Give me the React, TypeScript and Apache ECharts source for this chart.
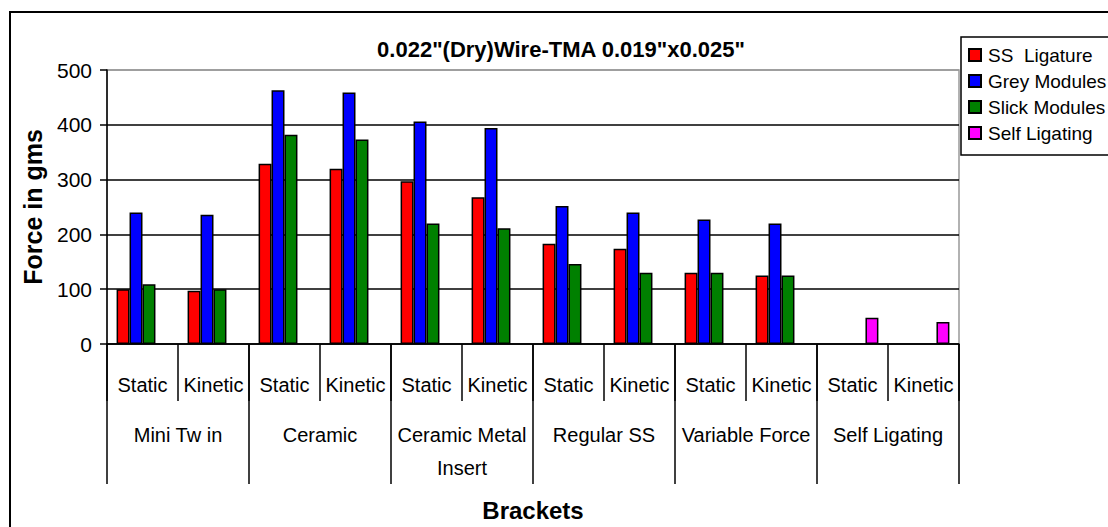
import React, { useEffect, useRef } from "react";
import * as echarts from "echarts";

const subCategories = ["Static", "Kinetic", "Static", "Kinetic", "Static", "Kinetic", "Static", "Kinetic", "Static", "Kinetic", "Static", "Kinetic"];
const groupCategories = ["Mini Tw in", "Ceramic", "Ceramic Metal\nInsert", "Regular SS", "Variable Force", "Self Ligating"];
const seriesNames = ["SS  Ligature", "Grey Modules", "Slick Modules", "Self Ligating"];
const ssLigature = [100, 97, 329, 320, 297, 268, 183, 174, 130, 125, "-", "-"];
const greyModules = [240, 236, 463, 459, 406, 394, 252, 240, 227, 220, "-", "-"];
const slickModules = [109, 100, 382, 373, 220, 211, 146, 130, 130, 125, "-", "-"];
const selfLigating = ["-", "-", "-", "-", "-", "-", "-", "-", "-", "-", 48, 40];
const yTicks = { min: 0, max: 500, interval: 100 };
const colors = ["#FF0000", "#0000FF", "#008000", "#FF00FF"];

const FONT = "'Liberation Sans', Arial, sans-serif";

export default function App() {
  const ref = useRef<HTMLDivElement>(null);
  useEffect(() => {
    const chart = echarts.init(ref.current!, null, { renderer: "svg" });
    const seriesData = [ssLigature, greyModules, slickModules, selfLigating];
    chart.setOption({
      animation: false,
      backgroundColor: "#fff",
      textStyle: { fontFamily: FONT, color: "#000" },
      title: {
        text: '0.022"(Dry)Wire-TMA 0.019"x0.025"',
        left: 556,
        top: 33,
        textAlign: "center",
        textStyle: { fontFamily: FONT, fontSize: 22, fontWeight: "bold", color: "#000" },
      },
      legend: {
        orient: "vertical",
        left: 963,
        top: 39,
        itemWidth: 12,
        itemHeight: 12,
        itemGap: 4,
        icon: "rect",
        data: seriesNames,
        textStyle: { fontFamily: FONT, fontSize: 19, color: "#000", lineHeight: 22, padding: [0, 0, 0, 2] },
      },
      graphic: [
        { type: "rect", shape: { x: 10, y: 12, width: 1200, height: 600 }, style: { fill: "none", stroke: "#000", lineWidth: 2 }, z: 100 },
        { type: "rect", shape: { x: 961, y: 37, width: 200, height: 118 }, style: { fill: "none", stroke: "#000", lineWidth: 1.5 }, z: 100 },
      ],
      grid: { left: 107, top: 70, width: 852, height: 274, show: true, borderColor: "#999", borderWidth: 1.5, containLabel: false },
      xAxis: [
        {
          type: "category",
          data: subCategories,
          position: "bottom",
          axisLine: { show: true, lineStyle: { color: "#000", width: 1.5 } },
          axisTick: { show: true, interval: 0, length: 57, lineStyle: { color: "#000", width: 1.5 } },
          axisLabel: { interval: 0, fontFamily: FONT, fontSize: 20, color: "#000", margin: 24, lineHeight: 33 },
        },
        {
          type: "category",
          data: groupCategories,
          position: "bottom",
          offset: 0,
          axisLine: { show: false },
          axisTick: { show: true, interval: 0, length: 140, lineStyle: { color: "#000", width: 1.5 } },
          axisLabel: { interval: 0, fontFamily: FONT, fontSize: 20, color: "#000", margin: 74, lineHeight: 33 },
          name: "Brackets",
          nameLocation: "middle",
          nameGap: 154,
          nameTextStyle: { fontFamily: FONT, fontSize: 24, fontWeight: "bold", color: "#000" },
        },
      ],
      yAxis: {
        type: "value",
        min: yTicks.min,
        max: yTicks.max,
        interval: yTicks.interval,
        axisLine: { show: true, lineStyle: { color: "#000", width: 1.5 } },
        axisTick: { show: true, length: 7, lineStyle: { color: "#000", width: 1.5 } },
        axisLabel: { fontFamily: FONT, fontSize: 21, color: "#000", margin: 15 },
        splitLine: { show: true, lineStyle: { color: ["#000", "#000", "#000", "#000", "#000", "#999"], width: 1.5 } },
        name: "Force in gms",
        nameLocation: "middle",
        nameGap: 62,
        nameRotate: 90,
        nameTextStyle: { fontFamily: FONT, fontSize: 25, fontWeight: "bold", color: "#000" },
      },
      series: seriesNames.map((name, i) => ({
        name,
        type: "bar",
        xAxisIndex: 0,
        data: seriesData[i],
        barGap: "0%",
        barCategoryGap: "27%",
        itemStyle: { color: colors[i], borderColor: "#000", borderWidth: 1.5 },
      })),
    });
    return () => chart.dispose();
  }, []);
  return <div ref={ref} style={{ position: "fixed", left: 0, top: 0, width: 1108, height: 527 }} />;
}
